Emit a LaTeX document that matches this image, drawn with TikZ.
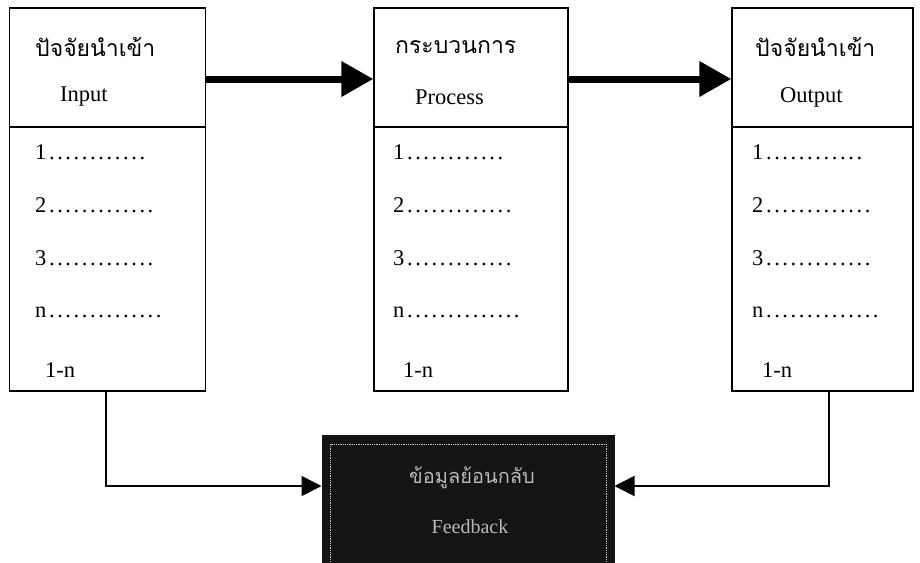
\documentclass[tikz,border=0pt]{standalone}
\usepackage{fontspec}
\setmainfont{Liberation Serif}
\newfontfamily\thaifont[Script=Thai]{Loma}
\usetikzlibrary{arrows.meta}
\definecolor{fbfill}{HTML}{141416}
\definecolor{fbtext}{HTML}{B8B8B8}
\newcommand\mydotrow[1]{\foreach\k in {1,...,#1}{\hspace{2.6pt}.}}
\begin{document}
\begin{tikzpicture}[x=1pt,y=-1pt,
  blockbox/.style={draw=black, line width=1.4pt, inner sep=0pt},
  lbl/.style={anchor=west, inner sep=0pt, font=\fontsize{22.5}{24}\selectfont},
  thlbl/.style={anchor=west, inner sep=0pt, font=\thaifont\fontsize{23}{26}\selectfont},
  bigarrow/.style={line width=7pt, -{Triangle[length=32pt,width=34pt]}},
  fbarrow/.style={line width=1.6pt, -{Triangle[length=20pt,width=20pt]}},
  divider/.style={line width=1.4pt},
]
\useasboundingbox (0,0) rectangle (920,562);
\fill[white] (0,0) rectangle (920,562);

% main boxes
\node[blockbox, minimum width=196pt, minimum height=383pt] (inbox) at (107.5,199.5) {};
\node[blockbox, minimum width=194pt, minimum height=383pt] (procbox) at (471,199.5) {};
\node[blockbox, minimum width=181pt, minimum height=383pt] (outbox) at (822.5,199.5) {};

\draw[divider] (inbox.west |- 0,127) -- (inbox.east |- 0,127);
\draw[divider] (procbox.west |- 0,127) -- (procbox.east |- 0,127);
\draw[divider] (outbox.west |- 0,127) -- (outbox.east |- 0,127);

% input box texts
\node[thlbl] (inth) at (35,47) {ปัจจัยนำเข้า};
\node[lbl] (inen) at (60,97) {Input};
\node[lbl] (in1) at (35,152) {1\mydotrow{12}};
\node[lbl] (in2) at (35,205) {2\mydotrow{13}};
\node[lbl] (in3) at (35,258) {3\mydotrow{13}};
\node[lbl] (inn) at (35,312) {n\mydotrow{14}};
\node[lbl] (inr) at (45,370) {1-n};

% process box texts
\node[thlbl] (prth) at (395,47) {กระบวนการ};
\node[lbl] (pren) at (415,97) {Process};
\node[lbl] (pr1) at (393,152) {1\mydotrow{12}};
\node[lbl] (pr2) at (393,205) {2\mydotrow{13}};
\node[lbl] (pr3) at (393,258) {3\mydotrow{13}};
\node[lbl] (prn) at (393,312) {n\mydotrow{14}};
\node[lbl] (prr) at (403,370) {1-n};

% output box texts
\node[thlbl] (outh) at (755,47) {ปัจจัยนำเข้า};
\node[lbl] (ouen) at (780,97) {Output};
\node[lbl] (ou1) at (752,152) {1\mydotrow{12}};
\node[lbl] (ou2) at (752,205) {2\mydotrow{13}};
\node[lbl] (ou3) at (752,258) {3\mydotrow{13}};
\node[lbl] (oun) at (752,312) {n\mydotrow{14}};
\node[lbl] (our) at (762,370) {1-n};

% big arrows
\draw[bigarrow] (inbox.east |- 0,79) -- (procbox.west |- 0,79);
\draw[bigarrow] (procbox.east |- 0,79) -- (outbox.west |- 0,79);

% feedback box
\node[draw=fbfill, fill=fbfill, line width=1pt, minimum width=292pt, minimum height=135pt, inner sep=0pt] (fbbox) at (468,502.5) {};
\draw[fbtext!70, densely dotted, line width=0.8pt] (330,444) rectangle (606,580);
\node[inner sep=0pt, text=fbtext, font=\thaifont\fontsize{20}{24}\selectfont] (fbth) at (472,478) {ข้อมูลย้อนกลับ};
\node[inner sep=0pt, text=fbtext, font=\fontsize{20}{24}\selectfont] (fben) at (470,527) {Feedback};

% feedback connectors
\draw[fbarrow] (inbox.south -| 106,0) |- (fbbox.west |- 0,486);
\draw[fbarrow] (outbox.south -| 829,0) |- (fbbox.east |- 0,486);
\end{tikzpicture}
\end{document}
